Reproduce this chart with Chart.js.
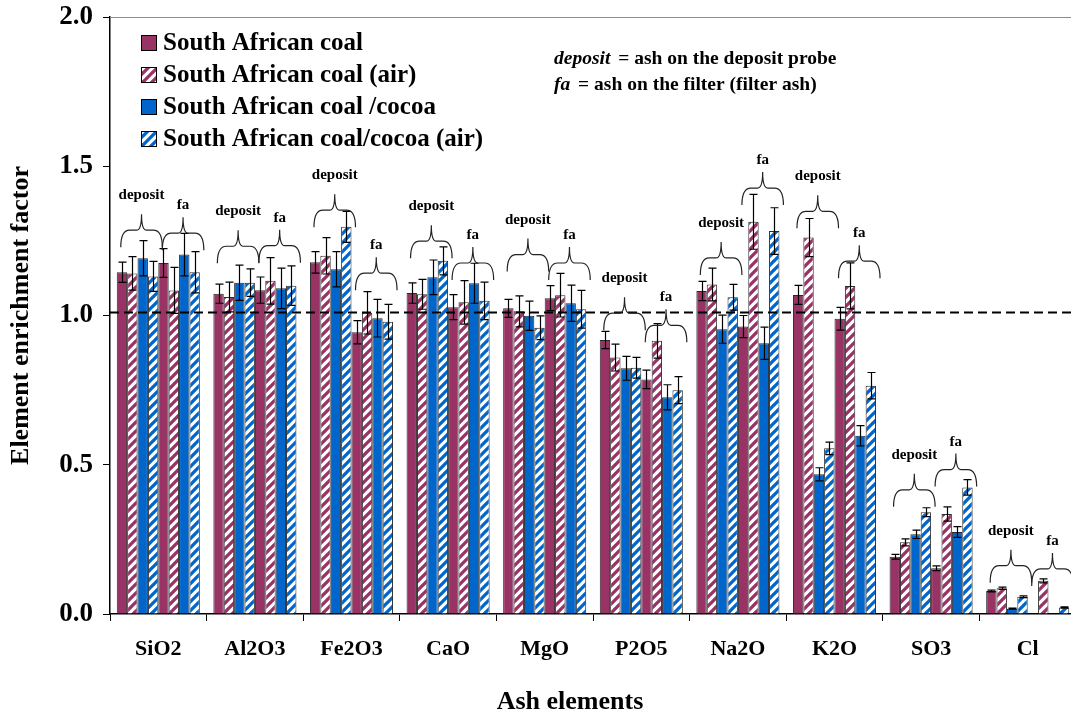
<!DOCTYPE html>
<html>
<head>
<meta charset="utf-8">
<script src="https://cdn.jsdelivr.net/npm/chart.js@4/dist/chart.umd.min.js"></script>
<style>
  html, body { margin: 0; padding: 0; background: #fff; overflow: hidden; }
  #wrap { width: 1077px; height: 717px; }
</style>
</head>
<body>
<div id="wrap"><canvas id="chart" width="1077" height="717"></canvas></div>
<script>
// Ash elements on the x axis
const categories = ['SiO2', 'Al2O3', 'Fe2O3', 'CaO', 'MgO', 'P2O5', 'Na2O', 'K2O', 'SO3', 'Cl'];
const seriesNames = ['South African coal', 'South African coal (air)', 'South African coal /cocoa', 'South African coal/cocoa (air)'];
const yTickValues = [0, 0.5, 1.0, 1.5, 2.0];
const xTitle = 'Ash elements';
const yTitle = 'Element enrichment factor';

// Enrichment factors of the ash on the deposit probe
const depositCoal         = [1.145, 1.073, 1.178, 1.075, 1.024, 0.918, 1.082, 1.069, 0.192, 0.077];
const depositCoalErr      = [0.034, 0.032, 0.036, 0.034, 0.030, 0.029, 0.032, 0.032, 0.008, 0.003];
const depositCoalAir      = [1.141, 1.062, 1.200, 1.071, 1.014, 0.859, 1.104, 1.261, 0.240, 0.086];
const depositCoalAirErr   = [0.056, 0.050, 0.061, 0.050, 0.052, 0.045, 0.055, 0.064, 0.012, 0.004];
const depositCocoa        = [1.192, 1.110, 1.155, 1.128, 0.999, 0.823, 0.954, 0.468, 0.267, 0.018];
const depositCocoaErr     = [0.059, 0.059, 0.059, 0.058, 0.049, 0.040, 0.047, 0.022, 0.014, 0.002];
const depositCocoaAir     = [1.131, 1.110, 1.297, 1.183, 0.959, 0.825, 1.061, 0.555, 0.341, 0.058];
const depositCocoaAirErr  = [0.050, 0.046, 0.052, 0.047, 0.040, 0.035, 0.043, 0.021, 0.015, 0.003];

// Enrichment factors of the filter ash
const filterCoal          = [1.176, 1.085, 0.944, 1.028, 1.058, 0.786, 0.963, 0.989, 0.153, null];
const filterCoalErr       = [0.048, 0.044, 0.039, 0.042, 0.042, 0.031, 0.037, 0.038, 0.008, null];
const filterCoalAir       = [1.084, 1.116, 1.009, 1.044, 1.068, 0.915, 1.314, 1.099, 0.335, 0.111];
const filterCoalAirErr    = [0.077, 0.078, 0.071, 0.073, 0.073, 0.058, 0.092, 0.077, 0.024, 0.007];
const filterCocoa         = [1.204, 1.091, 0.991, 1.108, 1.041, 0.726, 0.907, 0.597, 0.275, null];
const filterCocoaErr      = [0.071, 0.068, 0.063, 0.067, 0.061, 0.042, 0.054, 0.034, 0.018, null];
const filterCocoaAir      = [1.145, 1.100, 0.979, 1.049, 1.021, 0.750, 1.283, 0.765, 0.424, 0.022];
const filterCocoaAirErr   = [0.069, 0.066, 0.058, 0.063, 0.063, 0.045, 0.078, 0.044, 0.026, 0.002];

// Height (in enrichment-factor units) where each group brace sits
const depositBraceLevel   = [1.229, 1.175, 1.296, 1.192, 1.147, 0.951, 1.136, 1.292, 0.359, 0.105];
const filterBraceLevel    = [1.219, 1.177, 1.085, 1.119, 1.119, 0.910, 1.370, 1.125, 0.427, 0.094];

const referenceLevel = 1.01;

const MAROON = '#993366';
const BLUE = '#0066CC';
const FONT = "'Liberation Serif', 'Times New Roman', serif";

function stripes(color) {
  const s = 9;
  const c = document.createElement('canvas');
  c.width = c.height = s;
  const g = c.getContext('2d');
  g.fillStyle = '#fff';
  g.fillRect(0, 0, s, s);
  g.strokeStyle = color;
  g.lineWidth = 3.3;
  g.beginPath();
  for (const o of [-s, 0, s]) { g.moveTo(o - 1, s + 1); g.lineTo(o + s + 1, -1); }
  g.stroke();
  return g.createPattern(c, 'repeat');
}

const fills = [MAROON, stripes(MAROON), BLUE, stripes(BLUE)];

function makeSet(idx, data, errors) {
  return {
    label: seriesNames[idx],
    data: data,
    errors: errors,
    backgroundColor: fills[idx],
    borderColor: '#2a2a2a',
    borderWidth: 1,
    categoryPercentage: 0.86,
    barPercentage: 1.0
  };
}

const datasets = [
  makeSet(0, depositCoal, depositCoalErr),
  makeSet(1, depositCoalAir, depositCoalAirErr),
  makeSet(2, depositCocoa, depositCocoaErr),
  makeSet(3, depositCocoaAir, depositCocoaAirErr),
  makeSet(0, filterCoal, filterCoalErr),
  makeSet(1, filterCoalAir, filterCoalAirErr),
  makeSet(2, filterCocoa, filterCocoaErr),
  makeSet(3, filterCocoaAir, filterCocoaAirErr)
];

// Dashed reference line, frame top, error bars
const overlayPlugin = {
  id: 'overlay',
  afterDatasetsDraw(chart) {
    const ctx = chart.ctx, y = chart.scales.y, a = chart.chartArea;
    ctx.save();
    // top frame line
    ctx.strokeStyle = '#8c8c8c';
    ctx.lineWidth = 1;
    ctx.beginPath();
    ctx.moveTo(a.left, a.top + 0.5);
    ctx.lineTo(a.right, a.top + 0.5);
    ctx.stroke();
    // dashed reference line
    const yr = y.getPixelForValue(referenceLevel);
    ctx.strokeStyle = '#000';
    ctx.lineWidth = 2;
    ctx.setLineDash([9, 5]);
    ctx.beginPath();
    ctx.moveTo(a.left, yr);
    ctx.lineTo(a.right, yr);
    ctx.stroke();
    ctx.setLineDash([]);
    // error bars
    ctx.strokeStyle = '#000';
    ctx.lineWidth = 1.2;
    chart.data.datasets.forEach((ds, i) => {
      const meta = chart.getDatasetMeta(i);
      meta.data.forEach((bar, j) => {
        const v = ds.data[j], e = ds.errors[j];
        if (v == null || e == null) return;
        const x = Math.round(bar.x) + 0.5;
        const yt = y.getPixelForValue(v + e), yb = y.getPixelForValue(v - e);
        ctx.beginPath();
        ctx.moveTo(x, yt); ctx.lineTo(x, yb);
        ctx.moveTo(x - 4, yt); ctx.lineTo(x + 4, yt);
        ctx.moveTo(x - 4, yb); ctx.lineTo(x + 4, yb);
        ctx.stroke();
      });
    });
    ctx.restore();
  },
  afterDraw(chart) {
    const ctx = chart.ctx, y = chart.scales.y;
    ctx.save();
    // group braces with their labels
    const brace = (xl, xr, level, text, lift) => {
      const yb = y.getPixelForValue(level);
      const h = 33, ym = yb - 17, xc = (xl + xr) / 2, r = 9, r2 = 5;
      ctx.strokeStyle = '#222';
      ctx.lineWidth = 1.2;
      ctx.beginPath();
      ctx.moveTo(xl, yb);
      ctx.quadraticCurveTo(xl, ym, xl + r, ym);
      ctx.lineTo(xc - r2, ym);
      ctx.quadraticCurveTo(xc, ym, xc, yb - h);
      ctx.moveTo(xr, yb);
      ctx.quadraticCurveTo(xr, ym, xr - r, ym);
      ctx.lineTo(xc + r2, ym);
      ctx.quadraticCurveTo(xc, ym, xc, yb - h);
      ctx.stroke();
      ctx.fillStyle = '#000';
      ctx.font = 'bold 15px ' + FONT;
      ctx.textAlign = 'center';
      ctx.textBaseline = 'alphabetic';
      ctx.fillText(text, xc, yb - h - lift);
    };
    const m0 = chart.getDatasetMeta(0).data, m3 = chart.getDatasetMeta(3).data;
    const m4 = chart.getDatasetMeta(4).data, m7 = chart.getDatasetMeta(7).data;
    categories.forEach((c, j) => {
      const w = m0[j].width;
      brace(m0[j].x - w / 2 + 4, m3[j].x + w / 2 + 4, depositBraceLevel[j], 'deposit', 15);
      brace(m4[j].x - w / 2 + 4, m7[j].x + w / 2 + 4, filterBraceLevel[j], 'fa', 8);
    });

    // x-axis title, set under the middle of the visible plot
    ctx.fillStyle = '#000';
    ctx.font = 'bold 26px ' + FONT;
    ctx.textAlign = 'center';
    ctx.textBaseline = 'middle';
    ctx.fillText(xTitle, 570, 702);

    // legend
    ctx.textAlign = 'left';
    ctx.textBaseline = 'middle';
    ctx.font = 'bold 25px ' + FONT;
    const lx = 141, rows = [43, 75, 107, 139];
    for (let i = 0; i < 4; i++) {
      const ds = chart.data.datasets[i];
      ctx.fillStyle = ds.backgroundColor;
      ctx.fillRect(lx, rows[i] - 7.5, 15, 15);
      ctx.strokeStyle = '#000';
      ctx.lineWidth = 1;
      ctx.strokeRect(lx + 0.5, rows[i] - 7.5, 15, 15);
      ctx.fillStyle = '#000';
      ctx.fillText(ds.label, 163, rows[i] + 1);
    }

    // definitions of the group labels
    const note = (x, base, key, rest) => {
      ctx.textBaseline = 'alphabetic';
      ctx.font = 'italic bold 19.5px ' + FONT;
      ctx.fillText(key, x, base);
      const w = ctx.measureText(key).width;
      ctx.font = 'bold 19.5px ' + FONT;
      ctx.fillText(' = ' + rest, x + w + 3, base);
    };
    note(554, 64, 'deposit', 'ash on the deposit probe');
    note(554, 90, 'fa', 'ash on the filter (filter ash)');
    ctx.restore();
  }
};

new Chart(document.getElementById('chart'), {
  type: 'bar',
  data: { labels: categories, datasets: datasets },
  options: {
    responsive: false,
    animation: false,
    devicePixelRatio: 1,
    layout: { padding: { top: 17, right: 1, left: 0, bottom: 0 } },
    plugins: { legend: { display: false }, tooltip: { enabled: false } },
    scales: {
      x: {
        grid: { display: true, drawOnChartArea: false, tickLength: 7, color: '#000', offset: true },
        border: { display: true, color: '#000', width: 1.5 },
        ticks: { font: { family: FONT, size: 22, weight: 'bold' }, color: '#000', padding: 15 },
        title: { display: false },
        afterFit(s) { s.height = 103; s.paddingLeft = 0; s.paddingRight = 0; }
      },
      y: {
        min: 0, max: 2,
        afterBuildTicks(s) { s.ticks = yTickValues.map(v => ({ value: v })); },
        ticks: { callback: v => v.toFixed(1), font: { family: FONT, size: 27, weight: 'bold' },
                 color: '#000', padding: 10 },
        grid: { display: true, drawOnChartArea: false, tickLength: 7, color: '#000' },
        border: { display: true, color: '#000', width: 1.5 },
        title: { display: true, text: yTitle, color: '#000',
                 font: { family: FONT, size: 26, weight: 'bold' }, padding: { top: 6, bottom: 0 } },
        afterFit(s) { s.width = 110; s.paddingTop = 0; s.paddingBottom = 0; }
      }
    }
  },
  plugins: [overlayPlugin]
});
</script>
</body>
</html>
